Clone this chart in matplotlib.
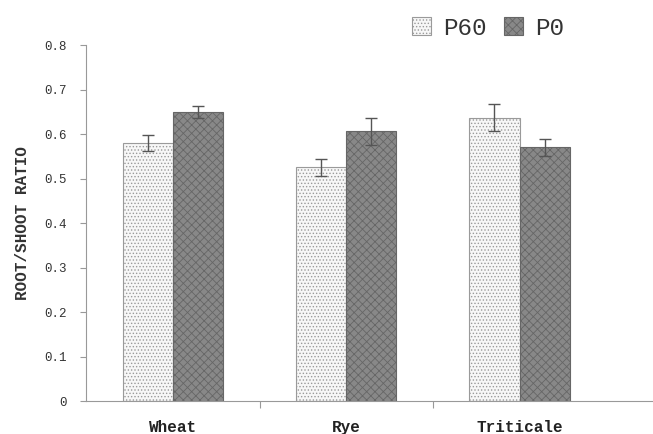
import numpy as np
import matplotlib
matplotlib.use('Agg')
import matplotlib.pyplot as plt

cultivos = ['Wheat', 'Rye', 'Triticale']
p60 = [0.580, 0.525, 0.637]
p60_err = [0.017, 0.019, 0.030]
p0 = [0.650, 0.606, 0.570]
p0_err = [0.013, 0.031, 0.020]
yticks = [0, 0.1, 0.2, 0.3, 0.4, 0.5, 0.6, 0.7, 0.8]

plt.rcParams['font.family'] = ['Liberation Mono', 'DejaVu Sans Mono']
plt.rcParams['hatch.color'] = '#bdbdbd'
plt.rcParams['hatch.linewidth'] = 0.6

fig = plt.figure(figsize=(6.53, 4.34), dpi=100)
ax = fig.add_axes([0.132, 0.076, 0.868, 0.82])

x = np.arange(len(cultivos))
w = 0.29
b1 = ax.bar(x - w/2, p60, w, color='#f7f7f7', edgecolor='#9a9a9a', linewidth=0.8,
            hatch='.....', label='P60')
b2 = ax.bar(x + w/2, p0, w, color='#888888', edgecolor='#666666', linewidth=0.8,
            hatch='xxxx', label='P0')
ax.errorbar(x - w/2, p60, yerr=p60_err, fmt='none', ecolor='#555555', elinewidth=1, capsize=4)
ax.errorbar(x + w/2, p0, yerr=p0_err, fmt='none', ecolor='#555555', elinewidth=1, capsize=4)

ax.set_xlim(-0.5, 2.77)
ax.set_ylim(0, 0.8)
ax.set_yticks(yticks)
ax.set_yticklabels(['0'] + ['%.1f' % v for v in yticks[1:]], fontsize=9, color='#333333')
ax.set_xticks([0.5, 1.5])
ax.set_xticklabels([])
ax.set_xticks(x, minor=True)
ax.set_xticklabels(cultivos, minor=True, fontsize=11.5, fontweight='bold', color='#222222')
ax.tick_params(axis='x', which='minor', length=0, pad=14)
ax.tick_params(axis='x', which='major', length=5, color='#999999', direction='out')
ax.tick_params(axis='y', length=4, color='#999999', direction='out', pad=10)
for s in ['top', 'right']:
    ax.spines[s].set_visible(False)
ax.spines['left'].set_color('#999999')
ax.spines['bottom'].set_color('#999999')
ax.set_ylabel('ROOT/SHOOT RATIO', fontsize=11.5, fontweight='bold', color='#333333', labelpad=10)

fig.legend(handles=[b1, b2], loc='upper left', bbox_to_anchor=(0.598, 1.012), ncol=2,
           frameon=False, fontsize=17.5, handlelength=0.78, handleheight=0.78,
           handletextpad=0.5, columnspacing=0.7, labelcolor='#333333')

plt.savefig('out.png', dpi=100)
